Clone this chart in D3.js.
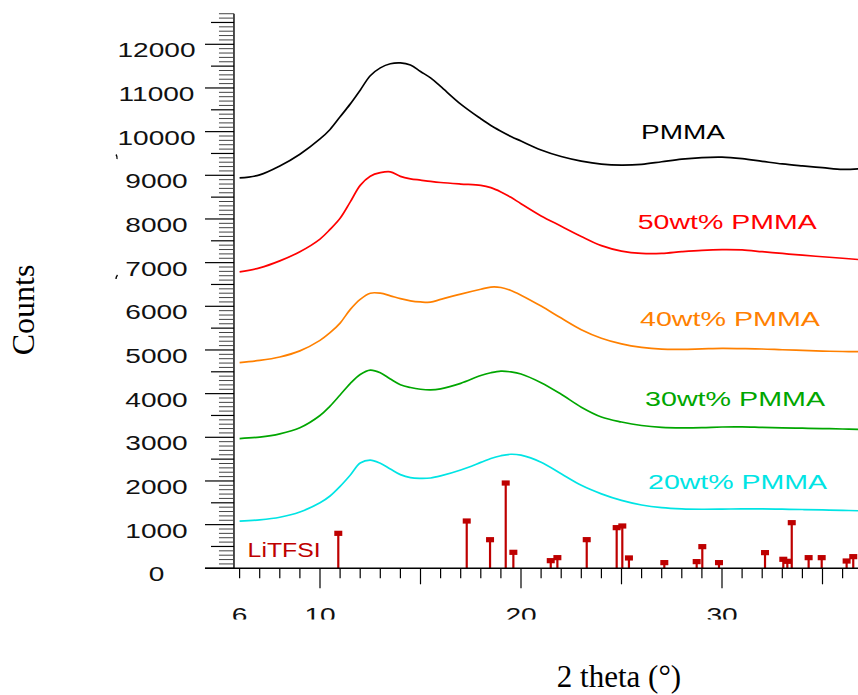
<!DOCTYPE html>
<html><head><meta charset="utf-8">
<script src="https://cdn.jsdelivr.net/npm/d3@7"></script>
<style>html,body{margin:0;padding:0;background:#fff;} svg{display:block;}</style>
</head><body><svg id="c" width="858" height="695"></svg>
<script>
// ---- data ----
const theta  = [6,7,8,9,10,10.5,11,11.5,12,12.5,13,13.5,14,14.5,15,15.5,16,17,18,18.5,19,19.5,20,21,22,23,24,25,26,27,28,29,30,31,32,33,34,35,36,36.8];
const pmma   = [8940,9010,9213,9483,9832,10050,10340,10630,10950,11280,11460,11555,11575,11525,11377,11230,11035,10630,10295,10140,10010,9890,9785,9580,9430,9325,9255,9232,9250,9310,9370,9405,9415,9380,9320,9260,9215,9175,9135,9150];
const pmma50 = [6790,6880,7040,7250,7540,7760,8015,8385,8770,8980,9060,9080,8975,8920,8890,8860,8835,8800,8770,8718,8620,8495,8350,8070,7835,7600,7390,7265,7210,7210,7250,7282,7297,7290,7250,7210,7170,7135,7100,7070];
const pmma40 = [4710,4760,4840,4980,5220,5395,5615,5925,6160,6300,6300,6240,6175,6125,6100,6095,6158,6280,6390,6440,6430,6362,6255,6005,5730,5465,5270,5140,5060,5020,5015,5025,5035,5030,5022,5005,4990,4975,4965,4960];
const pmma30 = [2970,3005,3080,3220,3500,3715,3970,4230,4440,4540,4480,4335,4205,4140,4100,4085,4110,4235,4415,4478,4515,4498,4450,4250,3985,3690,3465,3350,3270,3228,3215,3220,3236,3238,3226,3216,3208,3200,3190,3183];
const pmma20 = [1080,1110,1170,1290,1500,1655,1875,2130,2410,2478,2405,2275,2145,2075,2060,2068,2115,2250,2425,2516,2578,2612,2590,2430,2165,1900,1705,1555,1450,1388,1360,1352,1355,1362,1360,1353,1346,1338,1327,1318];

const seriesNames  = ["PMMA","50wt% PMMA","40wt% PMMA","30wt% PMMA","20wt% PMMA"];
const seriesColors = ["#000000","#ff0000","#ff8000","#00a600","#00e4e4"];
const labelTheta   = [25.97,25.81,25.92,26.17,26.32];
const labelCounts  = [9831,7763,5548,3717,1816];
const labelWidths  = [84,179,180,180,179];

const litfsiTheta  = [10.91,17.30,18.46,19.24,19.62,21.48,21.81,23.27,24.76,25.04,25.37,27.13,28.74,29.02,29.85,32.14,33.05,33.25,33.47,34.31,34.96,36.20,36.53];
const litfsiCounts = [801,1083,655,1953,366,175,244,656,931,969,237,130,153,496,130,359,206,160,1045,244,244,167,267];

const yTickLabels = [0,1000,2000,3000,4000,5000,6000,7000,8000,9000,10000,11000,12000];
const xTickLabels = [6,10,20,30];

// ---- scales ----
const svg = d3.select("#c");
const x = d3.scaleLinear().domain([10,30]).range([320,722]);
const y = d3.scaleLinear().domain([0,12000]).range([568.3,44.3]);
const xMin = 5.72, yMax = 12700;
const X0 = x(xMin), Y0 = y(0);
const FONT = "'Liberation Sans', Arial, sans-serif";
const SX = 1.37;

svg.append("defs").append("clipPath").attr("id","xlab")
  .append("rect").attr("x",0).attr("y",0).attr("width",858).attr("height",619.5);

// ---- curves ----
const series = [pmma, pmma50, pmma40, pmma30, pmma20];
const line = d3.line().x((d,i)=>x(theta[i])).y(d=>y(d)).curve(d3.curveCatmullRom.alpha(0.5));
series.forEach((s,k)=>{
  svg.append("path").attr("d", line(s)).attr("fill","none")
    .attr("stroke", seriesColors[k]).attr("stroke-width",1.7).attr("stroke-linejoin","round");
});

// ---- LiTFSI sticks ----
const stickColor = "#be0000";
const sticks = svg.append("g");
litfsiTheta.forEach((t,i)=>{
  sticks.append("line").attr("x1",x(t)).attr("x2",x(t)).attr("y1",Y0).attr("y2",y(litfsiCounts[i]))
    .attr("stroke",stickColor).attr("stroke-width",2.2);
  sticks.append("rect").attr("x",x(t)-4).attr("y",y(litfsiCounts[i])-2.6).attr("width",8).attr("height",5.2)
    .attr("fill",stickColor);
});

// ---- axes ----
const ax = svg.append("g").attr("stroke","#000");
ax.append("line").attr("x1",X0).attr("x2",X0).attr("y1",y(yMax)).attr("y2",Y0).attr("stroke-width",1.4);
ax.append("line").attr("x1",X0-29).attr("x2",858).attr("y1",Y0).attr("y2",Y0).attr("stroke-width",1.4);
d3.range(0, yMax+1, 100).forEach(v=>{
  const len = v%1000===0 ? 29 : (v%500===0 ? 23 : 15);
  ax.append("line").attr("x1",X0-len).attr("x2",X0).attr("y1",y(v)).attr("y2",y(v))
    .attr("stroke-width", v%500===0 ? 1.2 : 1).attr("stroke", v%500===0 ? "#000" : "#444");
});
d3.range(6, 37).forEach(v=>{
  const len = v%10===0 ? 20 : (v%5===0 ? 16 : 10);
  ax.append("line").attr("x1",x(v)).attr("x2",x(v)).attr("y1",Y0).attr("y2",Y0+len)
    .attr("stroke-width",1.2);
});

// y tick labels
yTickLabels.forEach(v=>{
  svg.append("text").attr("transform",`translate(156.5,${y(v)+13}) scale(${SX},1)`)
    .attr("text-anchor","middle").attr("font-family",FONT).attr("font-size",20.5)
    .attr("fill","#111").text(v);
});
// x tick labels (clipped at bottom as in the reference)
const xl = svg.append("g").attr("clip-path","url(#xlab)");
xTickLabels.forEach(v=>{
  xl.append("text").attr("transform",`translate(${x(v)},621.5) scale(${SX},1)`)
    .attr("text-anchor","middle").attr("font-family",FONT).attr("font-size",20.5)
    .attr("fill","#111").text(v);
});

// series labels
seriesNames.forEach((n,k)=>{
  svg.append("text").attr("x",x(labelTheta[k])).attr("y",y(labelCounts[k]))
    .attr("font-family",FONT).attr("font-size",20).attr("fill",seriesColors[k])
    .attr("textLength",labelWidths[k]).attr("lengthAdjust","spacingAndGlyphs").text(n);
});
svg.append("text").attr("x",x(6.40)).attr("y",y(252))
  .attr("font-family",FONT).attr("font-size",19.5).attr("fill",stickColor)
  .attr("textLength",73).attr("lengthAdjust","spacingAndGlyphs").text("LiTFSI");

// axis titles
svg.append("text").attr("transform","translate(34,310) rotate(-90)").attr("text-anchor","middle")
  .attr("font-family","'Liberation Serif','Times New Roman',serif").attr("font-size",32).text("Counts");
svg.append("text").attr("x",619).attr("y",687).attr("text-anchor","middle")
  .attr("font-family","'Liberation Serif','Times New Roman',serif").attr("font-size",31).text("2 theta (°)");

// small stray marks seen left of the axis in the reference
svg.append("path").attr("d","M116,154.5 Q117.5,156.5 117,159").attr("fill","none").attr("stroke","#000").attr("stroke-width",1.3);
svg.append("path").attr("d","M117.5,275 Q116,277 116,279").attr("fill","none").attr("stroke","#000").attr("stroke-width",1.3);
</script></body></html>
